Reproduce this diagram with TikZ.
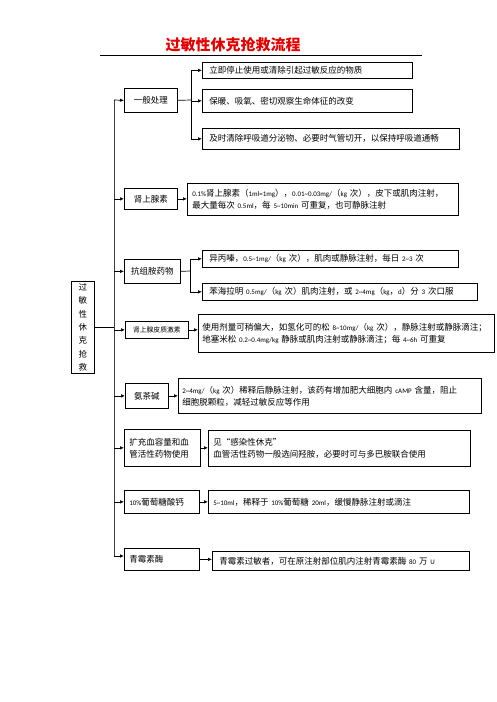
\documentclass[tikz,border=0pt]{standalone}
\usepackage{fontspec}
\setmainfont{Noto Sans CJK SC}
\newfontfamily\cjk{Noto Sans CJK SC}
\newfontfamily\lat[Scale=0.82]{Carlito}
\newcommand\la[1]{{\lat #1}}
\newcommand\tl{\textasciitilde}
\usetikzlibrary{arrows.meta}
\tikzset{
  box/.style={draw, line width=0.7pt, anchor=north west, inner ysep=0pt, align=left,
    font=\fontsize{8.5}{12}\selectfont},
  cbox/.style={box, align=center},
  arr/.style={line width=0.7pt, -{Latex[length=4pt,width=3.5pt]}},
  conn/.style={line width=0.7pt},
  mainline/.style={line width=1pt, draw=black!75}
}
\begin{document}
\begin{tikzpicture}[x=1pt,y=-1pt]
\useasboundingbox (0,0) rectangle (496,702);
% title
\node[font=\fontsize{15}{18}\selectfont\bfseries, text={rgb,255:red,230;green,0;blue,0}] (title) at (233,45) {过敏性休克抢救流程};
\coordinate (ul1) at (100,55);
\coordinate (ul2) at (422,55);
\draw[line width=0.7pt] (ul1) -- (ul2);
% main box
\node[box, align=center, minimum width=23pt, minimum height=92pt, text width=15pt, inner xsep=4pt,
  font=\fontsize{8.5}{13.3}\selectfont] (M) at (71,281) {过\\敏\\性\\休\\克\\抢\\救};
% level-1 boxes
\node[cbox, minimum width=53pt, minimum height=24pt, text width=47pt, inner xsep=3pt] (l1) at (124,88) {一般处理};
\node[cbox, minimum width=53pt, minimum height=21pt, text width=47pt, inner xsep=3pt] (l2) at (124,188) {肾上腺素};
\node[cbox, minimum width=56pt, minimum height=24pt, text width=50pt, inner xsep=3pt] (l3) at (124,259) {抗组胺药物};
\node[cbox, minimum width=63pt, minimum height=17pt, text width=59pt, inner xsep=2pt,
  font=\fontsize{6.8}{9}\selectfont] (l4) at (125,321) {肾上腺皮质激素};
\node[cbox, minimum width=43pt, minimum height=25pt, text width=39pt, inner xsep=2pt] (l5) at (125,383) {氨茶碱};
\node[box, minimum width=76pt, minimum height=37pt, text width=66pt, inner xsep=5pt] (l6) at (124,429) {扩充血容量和血\\管活性药物使用};
\node[box, minimum width=75pt, minimum height=23pt, text width=65pt, inner xsep=5pt] (l7) at (124,490) {\la{10\%}葡萄糖酸钙};
\node[box, minimum width=75pt, minimum height=22pt, text width=65pt, inner xsep=5pt] (l8) at (124,548) {青霉素酶};
% level-2 boxes
\node[box, minimum width=210pt, minimum height=16pt, text width=196pt, inner xsep=7pt] (r1a) at (202,62) {立即停止使用或清除引起过敏反应的物质};
\node[box, minimum width=210pt, minimum height=23pt, text width=196pt, inner xsep=7pt] (r1b) at (202,89) {保暖、吸氧、密切观察生命体征的改变};
\node[box, minimum width=257pt, minimum height=21pt, text width=243pt, inner xsep=7pt] (r1c) at (202,128) {及时清除呼吸道分泌物、必要时气管切开，以保持呼吸道通畅};
\node[box, minimum width=271pt, minimum height=32pt, text width=261pt, inner xsep=5pt] (r2) at (187,183)
  {\la{0.1\%}肾上腺素（\la{1ml=1mg}），\la{0.01\tl0.03mg/}（\la{kg}~次），皮下或肌肉注射，\\最大量每次~\la{0.5ml}，每~\la{5\tl10min}~可重复，也可静脉注射};
\node[box, minimum width=256pt, minimum height=17pt, text width=242pt, inner xsep=7pt] (r3a) at (202,250)
  {异丙嗪，\la{0.5\tl1mg/}（\la{kg}~次），肌肉或静脉注射，每日~\la{2\tl3}~次};
\node[box, minimum width=275pt, minimum height=17pt, text width=261pt, inner xsep=7pt] (r3b) at (202,283)
  {苯海拉明~\la{0.5mg/}（\la{kg}~次）肌肉注射，或~\la{2\tl4mg}（\la{kg}，\la{d}）分~\la{3}~次口服};
\node[box, minimum width=296pt, minimum height=38pt, text width=288pt, inner xsep=4pt] (r4) at (198,314)
  {使用剂量可稍偏大，如氢化可的松~\la{8\tl10mg/}（\la{kg}~次），静脉注射或静脉滴注；\\地塞米松~\la{0.2\tl0.4mg/kg}~静脉或肌肉注射或静脉滴注；每~\la{4\tl6h}~可重复};
\node[box, minimum width=303pt, minimum height=35pt, text width=295pt, inner xsep=4pt] (r5) at (178,378)
  {\la{2\tl4mg/}（\la{kg}~次）稀释后静脉注射，该药有增加肥大细胞内~\la{cAMP}~含量，阻止\\细胞脱颗粒，减轻过敏反应等作用};
\node[box, minimum width=262pt, minimum height=36pt, text width=252pt, inner xsep=5pt] (r6) at (208,430)
  {见“感染性休克”\\血管活性药物一般选间羟胺，必要时可与多巴胺联合使用};
\node[box, minimum width=261pt, minimum height=23pt, text width=251pt, inner xsep=5pt] (r7) at (208,490)
  {\la{5\tl10ml}，稀释于~\la{10\%}葡萄糖~\la{20ml}，缓慢静脉注射或滴注};
\node[box, minimum width=257pt, minimum height=19pt, text width=243pt, inner xsep=7pt] (r8) at (212,551)
  {青霉素过敏者，可在原注射部位肌内注射青霉素酶~\la{80}~万~\la{U}};
% main vertical connector
\coordinate (vt) at (114,100);
\coordinate (vb) at (114,556);
\draw[mainline] (vt) -- (vb);
\draw[conn] (M.east) -- (M.east -| vt);
\draw[arr] (vt) -- (l1.west);
\draw[arr] (l2.west -| vt) -- (l2.west);
\draw[arr] (l3.west -| vt) -- (l3.west);
\draw[arr] (l4.west -| vt) -- (l4.west);
\draw[arr] (l5.west -| vt) -- (l5.west);
\draw[arr] (l6.west -| vt) -- (l6.west);
\draw[arr] (l7.west -| vt) -- (l7.west);
\draw[arr] (vb) -- (vb -| l8.west);
% branch 1
\coordinate (b1) at (191,100);
\draw[conn] (l1.east) -- (b1);
\draw[conn] (r1a.west -| b1) -- (r1c.west -| b1);
\draw[arr] (r1a.west -| b1) -- (r1a.west);
\draw[arr] (r1b.west -| b1) -- (r1b.west);
\draw[arr] (r1c.west -| b1) -- (r1c.west);
% single arrows
\draw[arr] (l2.east) -- (l2.east -| r2.west);
\draw[arr] (l4.east) -- (l4.east -| r4.west);
\draw[arr] (l5.east) -- (l5.east -| r5.west);
\draw[arr] (l6.east) -- (l6.east -| r6.west);
\draw[arr] (l7.east) -- (l7.east -| r7.west);
\draw[arr] (l8.east) -- (l8.east -| r8.west);
% branch 3
\coordinate (b3) at (190,271);
\draw[conn] (l3.east) -- (b3);
\draw[conn] (r3a.west -| b3) -- (r3b.west -| b3);
\draw[arr] (r3a.west -| b3) -- (r3a.west);
\draw[arr] (r3b.west -| b3) -- (r3b.west);
\end{tikzpicture}
\end{document}
